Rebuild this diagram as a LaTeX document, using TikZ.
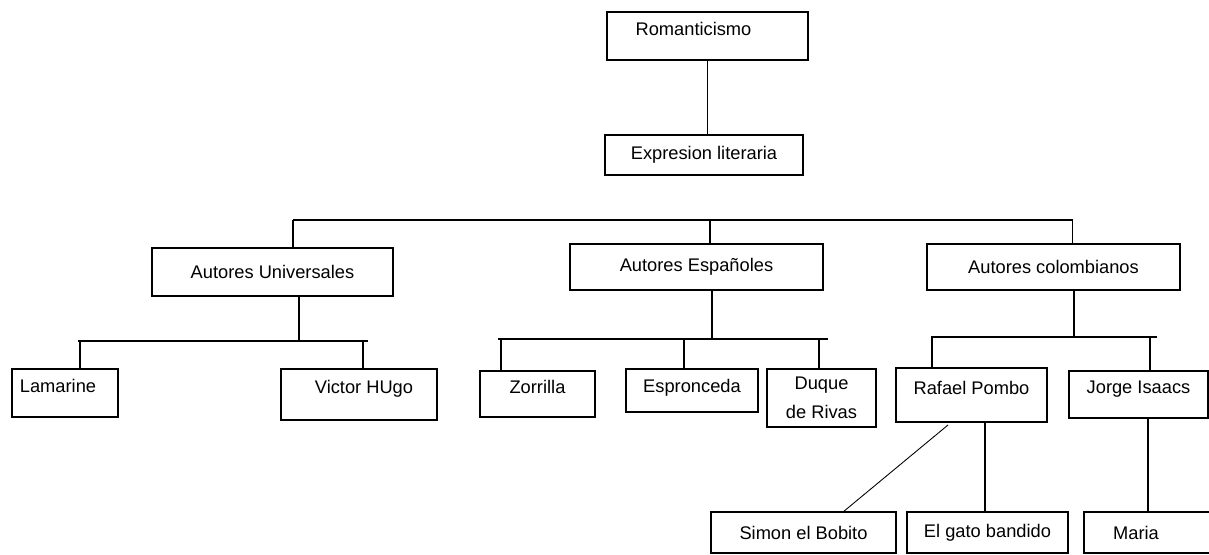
\documentclass[tikz,border=0pt]{standalone}
\usepackage{fontspec}
\setmainfont{Liberation Sans}
\usepackage{tikz}

\tikzset{
    caja/.style={draw, line width=0.9pt, inner sep=0pt, font=\fontsize{10.4}{16.5}\selectfont},
    alto/.style={text height=0.30cm, text depth=0.33cm},
    rama/.style={line width=0.9pt}
}

\begin{document}
\begin{tikzpicture}
                    \useasboundingbox (0,0) rectangle (24.18,-11.08);
                    \clip (0,0) rectangle (24.18,-11.08);

                    \node[caja,alto,minimum width=4.02cm,minimum height=0.96cm] (rom) at (14.15,-0.72) {Romanticismo\hspace*{0.56cm}};
                    \node[caja,minimum width=3.96cm,minimum height=0.80cm] (expr) at (14.08,-3.10) {Expresion literaria};
                    \draw[rama] (rom.south) -- (rom.south |- expr.north);

                    \node[caja,minimum width=4.82cm,minimum height=0.96cm] (univ) at (5.45,-5.44) {Autores Universales};
                    \node[caja,minimum width=5.06cm,minimum height=0.92cm] (esp) at (13.93,-5.34) {Autores Españoles};
                    \node[caja,minimum width=5.06cm,minimum height=0.92cm] (col) at (21.07,-5.34) {Autores colombianos};

                    \coordinate (b1) at (5.86,-4.40);
                    \coordinate (b2) at (14.20,-4.40);
                    \coordinate (b3) at (21.45,-4.40);
                    \draw[rama] (b1) -- (b3);
                    \draw[rama] (b1) -- (b1 |- univ.north);
                    \draw[rama] (b2) -- (b2 |- esp.north);
                    \draw[rama] (b3) -- (b3 |- col.north);

                    \node[caja,alto,minimum width=2.12cm,minimum height=0.96cm] (lam) at (1.30,-7.86) {Lamarine\hspace*{0.28cm}};
                    \node[caja,alto,minimum width=3.12cm,minimum height=1.02cm] (vic) at (7.18,-7.89) {\hspace*{0.2cm}Victor HUgo};
                    \coordinate (u1) at (1.56,-6.82);
                    \coordinate (u2) at (7.36,-6.82);
                    \draw[rama] (u1) -- (u2);
                    \draw[rama] (univ.south -| 5.98,0) -- (5.98,-6.82);
                    \draw[rama] (1.60,-6.82) -- (1.60,-6.82 |- lam.north);
                    \draw[rama] (7.26,-6.82) -- (7.26,-6.82 |- vic.north);

                    \node[caja,alto,minimum width=2.30cm,minimum height=0.92cm] (zor) at (10.75,-7.88) {Zorrilla};
                    \node[caja,text height=0.30cm,text depth=0.24cm,minimum width=2.64cm,minimum height=0.86cm] (espr) at (13.84,-7.81) {Espronceda};
                    \node[caja,align=center,minimum width=2.18cm,minimum height=1.16cm] (duq) at (16.43,-7.96) {Duque\\de Rivas};
                    \coordinate (e1) at (9.96,-6.78);
                    \coordinate (e2) at (16.56,-6.78);
                    \draw[rama] (e1) -- (e2);
                    \draw[rama] (esp.south -| 14.24,0) -- (14.24,-6.78);
                    \draw[rama] (10.02,-6.78) -- (10.02,-6.78 |- zor.north);
                    \draw[rama] (13.68,-6.78) -- (13.68,-6.78 |- espr.north);
                    \draw[rama] (16.38,-6.78) -- (16.38,-6.78 |- duq.north);

                    \node[caja,alto,minimum width=3.02cm,minimum height=1.08cm] (raf) at (19.43,-7.90) {Rafael Pombo};
                    \node[caja,alto,minimum width=2.78cm,minimum height=0.94cm] (jor) at (22.77,-7.89) {Jorge Isaacs};
                    \coordinate (c1) at (18.62,-6.74);
                    \coordinate (c2) at (23.14,-6.74);
                    \draw[rama] (c1) -- (c2);
                    \draw[rama] (col.south -| 21.48,0) -- (21.48,-6.74);
                    \draw[rama] (18.64,-6.74) -- (18.64,-6.74 |- raf.north);
                    \draw[rama] (23.00,-6.74) -- (23.00,-6.74 |- jor.north);

                    \node[caja,minimum width=3.70cm,minimum height=0.82cm] (sim) at (16.07,-10.65) {Simon el Bobito};
                    \node[caja,minimum width=3.22cm,minimum height=0.82cm] (gat) at (19.75,-10.65) {El gato bandido};
                    \node[caja,minimum width=2.76cm,minimum height=0.82cm] (mar) at (23.06,-10.65) {Maria\hspace*{0.68cm}};

                    \coordinate (d1) at (18.96,-8.50);
                    \coordinate (d2) at (16.86,-10.24);
                    \draw[line width=0.5pt] (d1) -- (d2);
                    \draw[rama] (raf.south -| 19.70,0) -- (19.70,0 |- gat.north);
                    \draw[rama] (jor.south -| 22.96,0) -- (22.96,0 |- mar.north);

                \end{tikzpicture}
\end{document}
